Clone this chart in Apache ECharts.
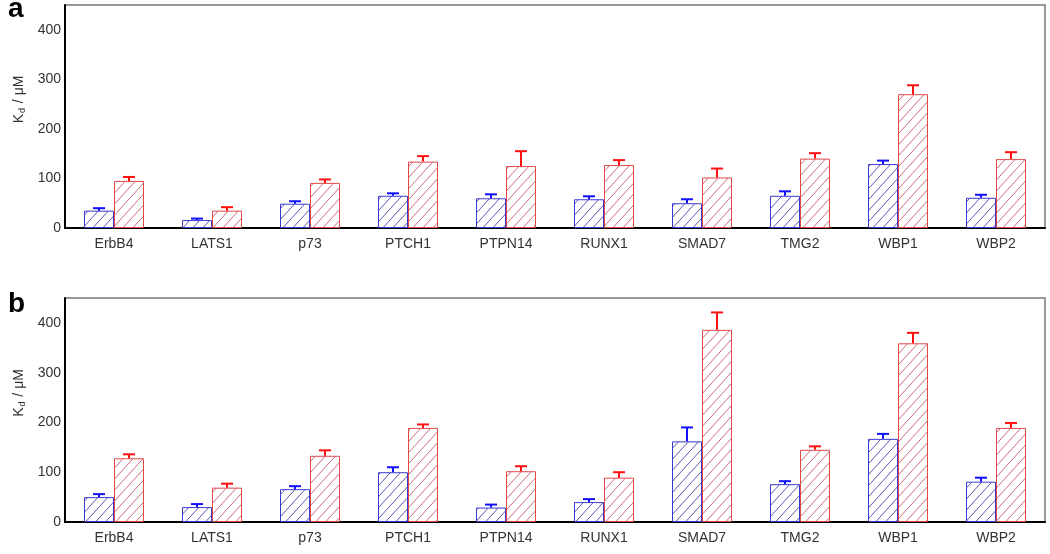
<!DOCTYPE html>
<html>
<head>
<meta charset="utf-8">
<script src="https://cdn.jsdelivr.net/npm/echarts@6/dist/echarts.min.js"></script>
<style>
  html, body { margin: 0; padding: 0; background: #fff; }
  #main { width: 1050px; height: 554px; }
</style>
</head>
<body>
<div id="main"></div>
<script>
// categories + values
var categories = ['ErbB4', 'LATS1', 'p73', 'PTCH1', 'PTPN14', 'RUNX1', 'SMAD7', 'TMG2', 'WBP1', 'WBP2'];

// panel a
var blueA    = [35, 16, 49, 65, 60, 58, 50, 65, 129, 61];
var blueErrA = [5, 3, 5, 5, 8, 6, 8, 9, 7, 6];
var redA     = [95, 35, 91, 134, 125, 127, 102, 140, 270, 139];
var redErrA  = [8, 7, 7, 11, 30, 10, 18, 11, 18, 14];

// panel b
var blueB    = [50, 30, 66, 100, 29, 40, 162, 76, 167, 81];
var blueErrB = [6, 6, 6, 10, 6, 6, 28, 6, 10, 8];
var redB     = [128, 69, 133, 189, 102, 89, 386, 145, 359, 189];
var redErrB  = [8, 8, 11, 7, 10, 11, 35, 7, 21, 10];

var yTicks = [0, 100, 200, 300, 400];
var yMinorTicks = [50, 150, 250, 350];

var FONT = 'Liberation Sans';
var BAR_W = 30;

// diagonal hatch pattern
function hatch(color) {
    var w = 10, h = 11;
    var c = document.createElement('canvas');
    c.width = w; c.height = h;
    var ctx = c.getContext('2d');
    ctx.fillStyle = '#fff';
    ctx.fillRect(0, 0, w, h);
    ctx.strokeStyle = color;
    ctx.lineWidth = 1;
    ctx.beginPath();
    ctx.moveTo(-w, 2 * h); ctx.lineTo(2 * w, -h);
    ctx.moveTo(-2 * w, 2 * h); ctx.lineTo(w, -h);
    ctx.moveTo(0, 2 * h); ctx.lineTo(3 * w, -h);
    ctx.stroke();
    return { image: c, repeat: 'repeat' };
}
var blueFill = hatch('#5f56b0');
var redFill = hatch('#cc6a80');

function errSeries(vals, errs, idx, offset, color) {
    return {
        type: 'custom',
        xAxisIndex: idx,
        yAxisIndex: idx * 2,
        z: 5,
        data: vals.map(function (v, i) { return [i, v, errs[i]]; }),
        renderItem: function (params, api) {
            var i = api.value(0), v = api.value(1), e = api.value(2);
            var b = api.coord([i, v]);
            var t = api.coord([i, v + e]);
            var x = b[0] + offset;
            var st = { stroke: color, lineWidth: 2 };
            return {
                type: 'group',
                children: [
                    { type: 'line', shape: { x1: x, y1: b[1], x2: x, y2: t[1] }, style: st },
                    { type: 'line', shape: { x1: x - 6, y1: t[1], x2: x + 6, y2: t[1] }, style: st }
                ]
            };
        }
    };
}

function barSeries(vals, idx, fill, border) {
    return {
        type: 'bar',
        xAxisIndex: idx,
        yAxisIndex: idx * 2,
        barWidth: BAR_W,
        barGap: '0%',
        data: vals,
        itemStyle: { color: fill, borderColor: border, borderWidth: 1 }
    };
}

function xAx(idx) {
    return {
        type: 'category',
        gridIndex: idx,
        data: categories,
        axisLine: { lineStyle: { color: '#000', width: 2 } },
        axisTick: { alignWithLabel: true, length: 7, lineStyle: { color: '#000', width: 2 } },
        axisLabel: { color: '#333', fontSize: 14, fontFamily: FONT, margin: 9 },
        splitLine: { show: false }
    };
}

function yAx(idx) {
    return [{
        type: 'value',
        gridIndex: idx,
        min: 0, max: 450, interval: 50,
        name: '{k|K}{d|d}{k| / \u03bcM}',
        nameLocation: 'middle',
        nameGap: 38,
        nameRotate: 90,
        nameTextStyle: {
            padding: [0, 0, 0, 34],
            rich: {
                k: { fontSize: 14, color: '#333', fontFamily: FONT },
                d: { fontSize: 9, color: '#333', fontFamily: FONT, verticalAlign: 'bottom', padding: [7, 1, 0, 1] }
            }
        },
        axisLine: { show: true, lineStyle: { color: '#000', width: 2 } },
        axisTick: { customValues: yTicks, length: 5, lineStyle: { color: '#000', width: 1.5 } },
        axisLabel: { customValues: yTicks, color: '#333', fontSize: 14, fontFamily: FONT, margin: 4 },
        splitLine: { show: false }
    }, {
        type: 'value',
        gridIndex: idx,
        min: 0, max: 450, interval: 50,
        axisLine: { show: false },
        axisTick: { customValues: yMinorTicks, length: 3, lineStyle: { color: '#000', width: 1.5 } },
        axisLabel: { show: false },
        splitLine: { show: false }
    }];
}

var chart = echarts.init(document.getElementById('main'), null, { renderer: 'canvas' });
var option = {
    animation: false,
    backgroundColor: '#fff',
    grid: [
        { left: 65, top: 5, width: 980, height: 223, show: true, borderColor: '#777', borderWidth: 1.5 },
        { left: 65, top: 298, width: 980, height: 224, show: true, borderColor: '#777', borderWidth: 1.5 }
    ],
    xAxis: [xAx(0), xAx(1)],
    yAxis: yAx(0).concat(yAx(1)),
    graphic: [
        { type: 'text', left: 8, top: -5, style: { text: 'a', font: 'bold 28px "Liberation Sans"', fill: '#000' } },
        { type: 'text', left: 8, top: 290, style: { text: 'b', font: 'bold 28px "Liberation Sans"', fill: '#000' } }
    ],
    series: [
        barSeries(blueA, 0, blueFill, '#3a3ad0'),
        barSeries(redA, 0, redFill, '#e04848'),
        errSeries(blueA, blueErrA, 0, -BAR_W / 2, '#1010ff'),
        errSeries(redA, redErrA, 0, BAR_W / 2, '#ff1010'),
        barSeries(blueB, 1, blueFill, '#3a3ad0'),
        barSeries(redB, 1, redFill, '#e04848'),
        errSeries(blueB, blueErrB, 1, -BAR_W / 2, '#1010ff'),
        errSeries(redB, redErrB, 1, BAR_W / 2, '#ff1010')
    ]
};
chart.setOption(option);
</script>
</body>
</html>
